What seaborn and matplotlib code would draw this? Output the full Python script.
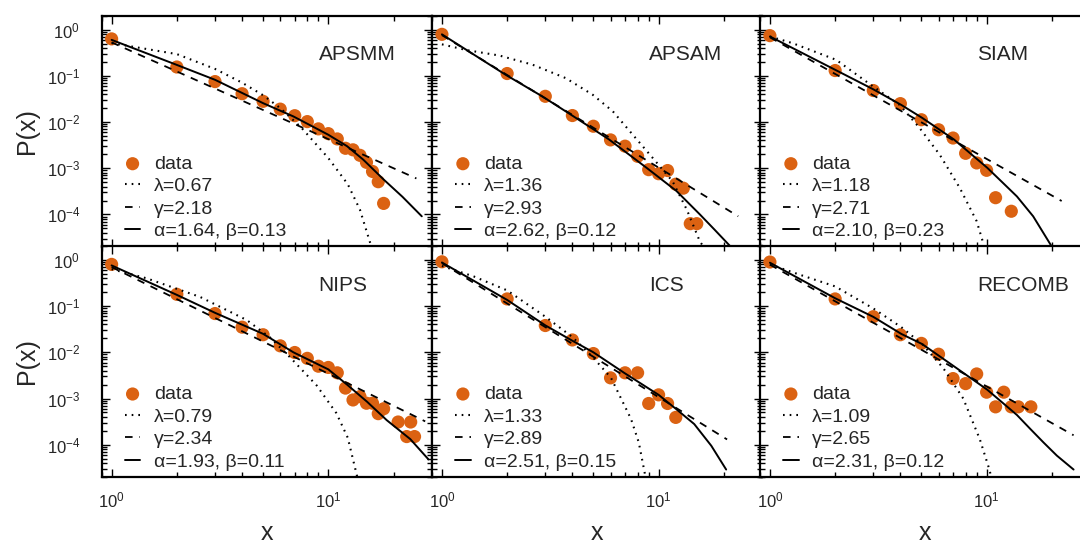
import numpy as np
import pandas as pd
import seaborn as sns
import matplotlib
matplotlib.use("Agg")
import matplotlib.pyplot as plt
from matplotlib.ticker import LogLocator, NullFormatter, LogFormatterSciNotation

# ---- data ----
names = ["APSMM", "APSAM", "SIAM", "NIPS", "ICS", "RECOMB"]
lambdas = ["0.67", "1.36", "1.18", "0.79", "1.33", "1.09"]
gammas = ["2.18", "2.93", "2.71", "2.34", "2.89", "2.65"]
alphas = ["1.64", "2.62", "2.10", "1.93", "2.51", "2.31"]
betas = ["0.13", "0.12", "0.23", "0.11", "0.15", "0.12"]

# APSMM
apsmm_x = list(range(1, 19))
apsmm_p = [0.63, 0.155, 0.075, 0.041, 0.028, 0.019, 0.0137, 0.0102, 0.0071, 0.0056,
           0.0043, 0.0027, 0.0025, 0.0019, 0.00134, 0.00085, 0.00051, 0.000173]
apsmm_exp_x = [1, 2, 3, 4, 5, 6, 7.5, 10, 12.3, 14, 15.7]
apsmm_exp_p = [0.51, 0.295, 0.141, 0.071, 0.038, 0.020, 0.0076, 0.00166, 4.5e-4, 1.26e-4, 2.2e-5]
apsmm_pow_x = [1, 25.5]
apsmm_pow_p = [0.53, 6.0e-4]
apsmm_fit_x = [1, 2, 3, 5, 6.9, 10, 12.2, 14.5, 18, 22, 27]
apsmm_fit_p = [0.60, 0.172, 0.082, 0.0256, 0.0132, 0.0053, 0.0030, 0.00153, 0.00057, 2.4e-4, 9.1e-5]

# APSAM
apsam_x = list(range(1, 16))
apsam_p = [0.79, 0.112, 0.036, 0.0138, 0.0081, 0.0041, 0.0030, 0.00181, 0.00093, 0.00076,
           0.00089, 0.00045, 0.00037, 6.3e-5, 6.3e-5]
apsam_exp_x = [1, 1.3, 1.84, 2.62, 3.73, 4.96, 6.15, 7.6, 9.4, 11.6, 13.5, 15.5, 16.0]
apsam_exp_p = [0.48, 0.36, 0.275, 0.174, 0.089, 0.039, 0.017, 0.0053, 0.00166, 5.2e-4, 1.26e-4, 2.6e-5, 2.1e-5]
apsam_pow_x = [1, 23.3]
apsam_pow_p = [0.76, 9.1e-5]
apsam_fit_x = [1, 1.97, 2.91, 3.93, 5.9, 8.8, 12.1, 15.5, 18.1, 21.3]
apsam_fit_p = [0.79, 0.105, 0.0357, 0.0145, 0.0042, 0.00102, 3.2e-4, 1.0e-4, 4.7e-5, 2.1e-5]

# SIAM
siam_x = [1, 2, 3, 4, 5, 6, 7, 8, 9, 10, 11, 13]
siam_p = [0.74, 0.13, 0.048, 0.025, 0.0112, 0.0068, 0.0045, 0.0021, 0.0013, 0.0009, 0.00023, 0.000117]
siam_exp_x = [1, 1.27, 2.02, 2.99, 3.97, 4.91, 6.08, 7.53, 9.0, 9.7]
siam_exp_p = [0.71, 0.51, 0.222, 0.059, 0.0234, 0.0074, 0.00195, 3.7e-4, 7.1e-5, 2.2e-5]
siam_pow_x = [1, 22.2]
siam_pow_p = [0.68, 1.95e-4]
siam_fit_x = [1, 2, 3, 4.04, 5.04, 7.06, 10.07, 11.9, 13.8, 16.4, 20.0]
siam_fit_p = [0.71, 0.135, 0.051, 0.0234, 0.0123, 0.0042, 0.00102, 4.8e-4, 2.45e-4, 9.1e-5, 2.0e-5]

# NIPS
nips_x = list(range(1, 19)) + [21, 23, 24, 25]
nips_p = [0.80, 0.18, 0.069, 0.035, 0.024, 0.0138, 0.0099, 0.0074, 0.0050, 0.0047, 0.0036,
          0.00168, 0.00093, 0.0011, 0.00079, 0.00079, 0.00047, 0.0006,
          3.1e-4, 1.5e-4, 3.1e-4, 1.5e-4]
nips_exp_x = [1, 1.45, 2.56, 4.2, 5.38, 6.66, 8.85, 10.9, 12.3, 13.6]
nips_exp_p = [0.63, 0.40, 0.158, 0.050, 0.021, 0.0078, 0.0019, 4.8e-4, 1.41e-4, 2.0e-5]
nips_pow_x = [1, 28]
nips_pow_p = [0.70, 3.2e-4]
nips_fit_x = [1, 2, 3, 5, 6.9, 10, 12.2, 15.1, 18.6, 23.9, 29.0]
nips_fit_p = [0.76, 0.175, 0.0716, 0.0251, 0.0100, 0.00427, 0.0020, 8.5e-4, 3.4e-4, 1.32e-4, 4.8e-5]

# ICS
ics_x = list(range(1, 13))
ics_p = [0.91, 0.143, 0.038, 0.0185, 0.0094, 0.0028, 0.0036, 0.0036, 0.00078, 0.0012, 0.00078, 0.00039]
ics_exp_x = [1, 1.4, 2, 3, 4, 5, 6.03, 7.46, 8.1, 8.7]
ics_exp_p = [0.74, 0.44, 0.219, 0.059, 0.0214, 0.0076, 0.0028, 3.6e-4, 1.12e-4, 2.0e-5]
ics_pow_x = [1, 20.7]
ics_pow_p = [0.85, 1.3e-4]
ics_fit_x = [1, 2, 3, 4, 5, 6.93, 10, 12, 14.6, 17.5, 20.5]
ics_fit_p = [0.88, 0.136, 0.0383, 0.0178, 0.0100, 0.0036, 0.0012, 6.0e-4, 2.8e-4, 9.5e-5, 2.9e-5]

# RECOMB
recomb_x = list(range(1, 15)) + [16]
recomb_p = [0.90, 0.143, 0.059, 0.024, 0.0156, 0.0091, 0.0027, 0.0021, 0.0034, 0.00137,
            0.00066, 0.00137, 0.00066, 0.00066, 0.00066]
recomb_exp_x = [1, 1.37, 2, 3, 4.04, 5.04, 6.3, 7.8, 9.3, 10.3, 10.5]
recomb_exp_p = [0.80, 0.48, 0.267, 0.089, 0.035, 0.0151, 0.0046, 0.0010, 1.32e-4, 2.9e-5, 2.0e-5]
recomb_pow_x = [1, 25.2]
recomb_pow_p = [0.79, 1.6e-4]
recomb_fit_x = [1, 2, 3, 4.04, 5.04, 7.06, 10.07, 13.8, 15.9, 18.3, 21.1, 25.2]
recomb_fit_p = [0.87, 0.148, 0.0585, 0.025, 0.0151, 0.005, 0.00155, 4.4e-4, 2.2e-4, 1.12e-4, 5.8e-5, 2.9e-5]

panels = [
    (apsmm_x, apsmm_p, apsmm_exp_x, apsmm_exp_p, apsmm_pow_x, apsmm_pow_p, apsmm_fit_x, apsmm_fit_p),
    (apsam_x, apsam_p, apsam_exp_x, apsam_exp_p, apsam_pow_x, apsam_pow_p, apsam_fit_x, apsam_fit_p),
    (siam_x, siam_p, siam_exp_x, siam_exp_p, siam_pow_x, siam_pow_p, siam_fit_x, siam_fit_p),
    (nips_x, nips_p, nips_exp_x, nips_exp_p, nips_pow_x, nips_pow_p, nips_fit_x, nips_fit_p),
    (ics_x, ics_p, ics_exp_x, ics_exp_p, ics_pow_x, ics_pow_p, ics_fit_x, ics_fit_p),
    (recomb_x, recomb_p, recomb_exp_x, recomb_exp_p, recomb_pow_x, recomb_pow_p, recomb_fit_x, recomb_fit_p),
]

# ---- style ----
sns.set_style("ticks")
plt.rcParams["font.family"] = ["Liberation Sans", "DejaVu Sans"]
plt.rcParams["mathtext.fontset"] = "custom"
plt.rcParams["mathtext.rm"] = "Liberation Sans"
plt.rcParams["mathtext.it"] = "Liberation Sans:italic"

orange = "#db6212"
W, H = 1080, 543
fig = plt.figure(figsize=(W / 100, H / 100), dpi=100)

col_left = [101.7, 432.0, 760.0]
col_w = 330.0
row_top = [15.7, 246.0]
row_h = 231.0

for i, (name, data) in enumerate(zip(names, panels)):
    r, c = divmod(i, 3)
    ax = fig.add_axes([col_left[c] / W, 1 - (row_top[r] + row_h) / H, col_w / W, row_h / H])
    dx, dp, ex, ep, px_, pp, fx, fp = data

    sns.scatterplot(x=dx, y=dp, ax=ax, color=orange, s=90, edgecolor="none",
                    label="data", zorder=2)
    sns.lineplot(x=ex, y=ep, ax=ax, color="black", lw=1.5, linestyle=(0, (0.8, 2.4)),
                 estimator=None, sort=False, label="\u03bb=" + lambdas[i], zorder=3)
    sns.lineplot(x=px_, y=pp, ax=ax, color="black", lw=1.3, linestyle=(0, (4.2, 3.8)),
                 estimator=None, sort=False, label="\u03b3=" + gammas[i], zorder=3)
    sns.lineplot(x=fx, y=fp, ax=ax, color="black", lw=1.4, linestyle="-",
                 estimator=None, sort=False,
                 label="\u03b1=" + alphas[i] + ", \u03b2=" + betas[i], zorder=3)

    ax.set_xscale("log")
    ax.set_yscale("log")
    ax.set_xlim(0.9, 30)
    ax.set_ylim(2e-5, 2)
    ax.set_xlabel("")
    ax.set_ylabel("")

    ax.xaxis.set_major_locator(LogLocator(base=10, numticks=10))
    ax.xaxis.set_minor_locator(LogLocator(base=10, subs=np.arange(2, 10), numticks=20))
    ax.yaxis.set_major_locator(LogLocator(base=10, numticks=10))
    ax.yaxis.set_minor_locator(LogLocator(base=10, subs=np.arange(2, 10), numticks=20))
    ax.xaxis.set_minor_formatter(NullFormatter())
    ax.yaxis.set_minor_formatter(NullFormatter())
    ax.xaxis.set_major_formatter(LogFormatterSciNotation())
    ax.yaxis.set_major_formatter(LogFormatterSciNotation())

    ax.tick_params(which="both", direction="in", top=True, right=True, width=1.0,
                   labelsize=12, color="black")
    ax.tick_params(which="major", length=6)
    ax.tick_params(which="minor", length=3.5)
    ax.tick_params(axis="y", which="major", pad=15.5)
    ax.tick_params(axis="x", which="major", pad=9.5)
    ax.tick_params(labelleft=(c == 0), labelbottom=(r == 1))
    for sp in ax.spines.values():
        sp.set_linewidth(1.6)
        sp.set_color("black")
        sp.set_visible(True)

    ax.text(0.657, 0.83, name, transform=ax.transAxes, ha="left", va="center",
            fontsize=15)

    handles, labels = ax.get_legend_handles_labels()
    ax.legend(handles, labels, loc="lower left", bbox_to_anchor=(0.07, 0.028),
              frameon=False, fontsize=14, handlelength=0.8, handletextpad=0.7,
              labelspacing=0.25, borderpad=0, borderaxespad=0, markerscale=1.0)

# axis labels
for r in range(2):
    yc = 1 - (row_top[r] + row_h / 2) / H
    fig.text(27 / W, yc, "P(x)", rotation=90, ha="center", va="center", fontsize=18)
for c in range(3):
    xc = (col_left[c] + col_w / 2) / W
    fig.text(xc, 1 - 540 / H, "x", ha="center", va="baseline", fontsize=18)

fig.savefig("out.png", dpi=100)
